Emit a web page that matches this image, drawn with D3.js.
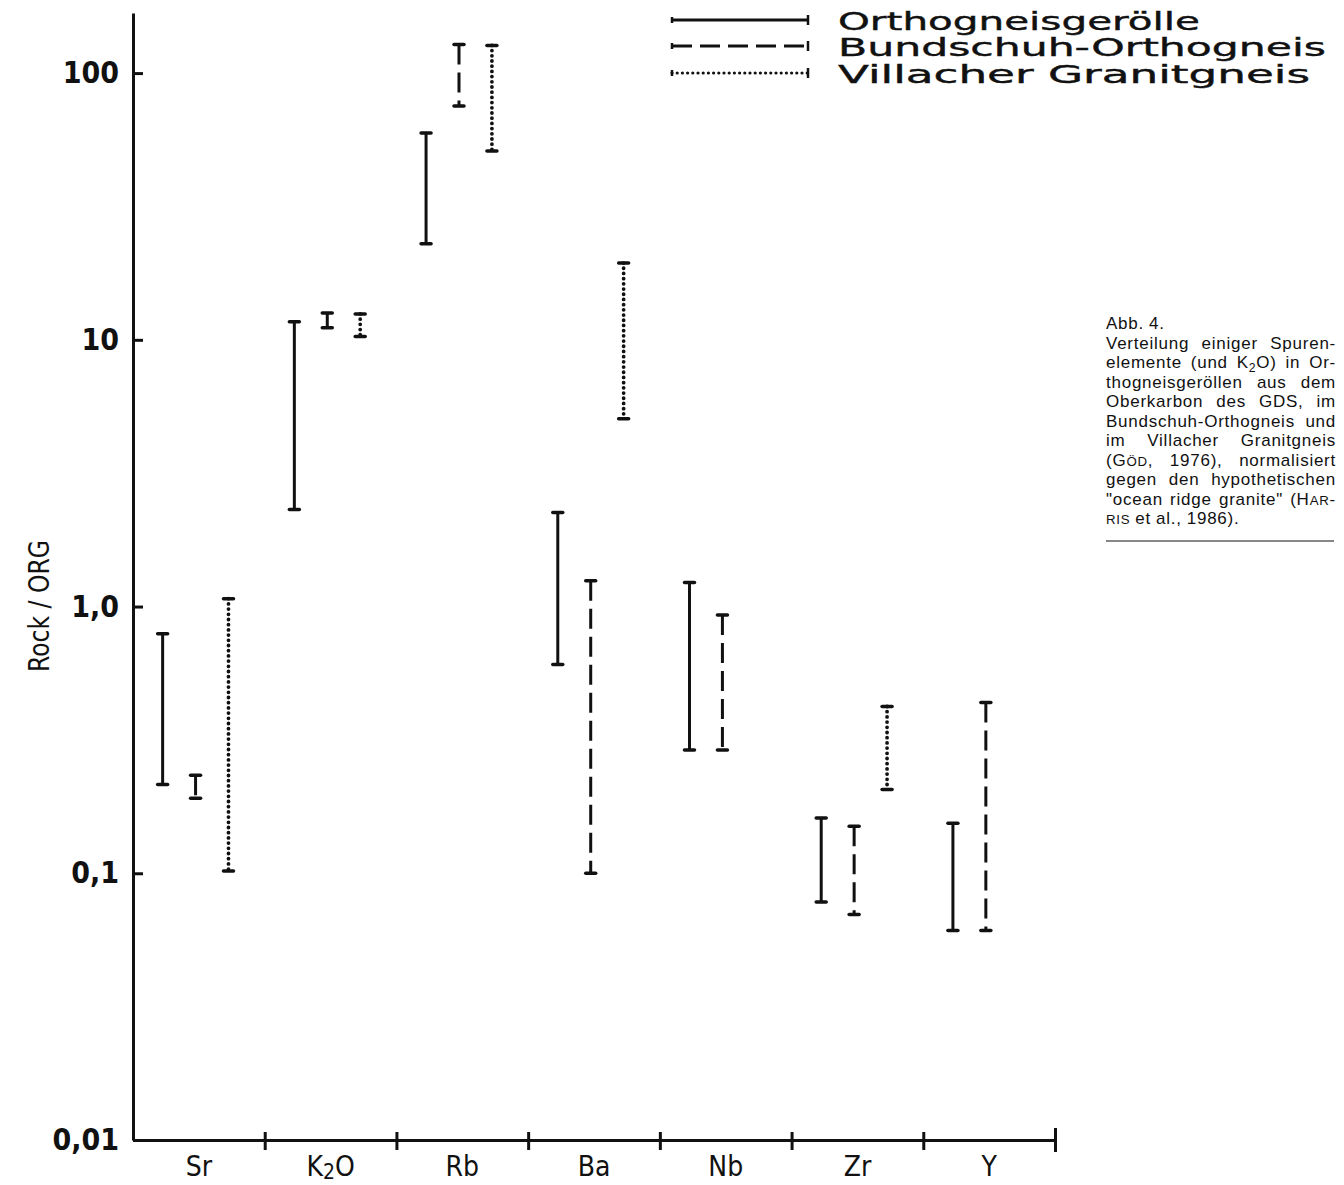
<!DOCTYPE html>
<html>
<head>
<meta charset="utf-8">
<script src="https://cdn.jsdelivr.net/npm/d3@7"></script>
<style>
  body { margin: 0; background: #fff; }
  svg { display: block; }
</style>
</head>
<body>
<div id="chart"></div>
<script>
    // Categories on the x axis
    const categories = ["Sr", "K2O", "Rb", "Ba", "Nb", "Zr", "Y"];
    const seriesNames = ["Orthogneisgerölle", "Bundschuh-Orthogneis", "Villacher Granitgneis"];

    // Rock / ORG ranges (min, max) per category, null = not shown
    const orthoMin = [0.215, 2.31, 22.9, 0.607, 0.29, 0.078, 0.061];
    const orthoMax = [0.79, 11.7, 59.6, 2.25, 1.23, 0.161, 0.154];
    const bundMin  = [0.191, 11.1, 75.2, 0.10, 0.29, 0.070, 0.061];
    const bundMax  = [0.233, 12.6, 128, 1.25, 0.93, 0.150, 0.437];
    const villMin  = [0.102, 10.3, 51, 5.06, null, 0.206, null];
    const villMax  = [1.07, 12.5, 127, 19.4, null, 0.422, null];

    // Y axis ticks
    const yTicks = [0.01, 0.1, 1, 10, 100];
    const yTickLabels = ["0,01", "0,1", "1,0", "10", "100"];
    const yMax = 168;

    // Caption text ({..} = small caps, _2 = subscript)
    const captionLines = [
        "Abb. 4.",
        "Verteilung einiger Spuren-",
        "elemente (und K_2O) in Or-",
        "thogneisgeröllen aus dem",
        "Oberkarbon des GDS, im",
        "Bundschuh-Orthogneis und",
        "im Villacher Granitgneis",
        "(G{ÖD}, 1976), normalisiert",
        "gegen den hypothetischen",
        "\"ocean ridge granite\" (H{AR}-",
        "{RIS} et al., 1986)."
    ];

    const width = 1344, height = 1185;
    const ink = "#111";
    const seriesDash = ["none", "20 8", "0 5.2"];
    const seriesCap = ["butt", "butt", "round"];
    const seriesWidth = [3, 3, 3.8];

    const svg = d3.select("#chart")
        .append("svg")
        .attr("width", width)
        .attr("height", height);

    // Scales
    const x = d3.scaleBand().domain(categories).range([133, 1055]);
    const xSub = d3.scaleBand().domain(seriesNames)
        .range([x.bandwidth() * 0.1, x.bandwidth() * 0.85]);
    const y = d3.scaleLog().domain([0.01, yMax]).range([1140, 13]);

    // Y axis
    const yAxis = svg.append("g")
        .attr("transform", "translate(133,0)")
        .call(d3.axisLeft(y)
            .tickValues(yTicks)
            .tickFormat((d, i) => yTickLabels[i])
            .tickSizeInner(-10)
            .tickSizeOuter(0)
            .tickPadding(14));
    yAxis.select(".domain").attr("stroke", ink).attr("stroke-width", 3);
    yAxis.selectAll(".tick line").attr("stroke", ink).attr("stroke-width", 3);
    yAxis.selectAll(".tick text")
        .attr("fill", ink)
        .attr("font-family", "'Liberation Sans Narrow', 'DejaVu Sans Condensed', sans-serif")
        .attr("font-weight", "bold")
        .attr("font-size", 30);

    // X axis: labels at band centres
    const xAxis = svg.append("g")
        .attr("transform", "translate(0,1140)")
        .call(d3.axisBottom(x).tickSize(0).tickPadding(16));
    xAxis.select(".domain").attr("stroke", ink).attr("stroke-width", 3);
    xAxis.selectAll(".tick text")
        .attr("fill", ink)
        .attr("font-family", "'DejaVu Sans Condensed', 'DejaVu Sans', sans-serif")
        .attr("font-size", 28);
    xAxis.selectAll(".tick text").filter(d => d === "K2O")
        .text(null)
        .call(t => {
            t.append("tspan").text("K");
            t.append("tspan").attr("font-size", 21).attr("dy", 3).text("2");
            t.append("tspan").attr("dy", -3).text("O");
        });

    // X axis: crossing ticks at band boundaries
    const xb = d3.scaleLinear().domain([0, categories.length]).range([133, 1055]);
    svg.append("g")
        .attr("transform", "translate(0,1140)")
        .call(d3.axisBottom(xb)
            .tickValues(d3.range(1, categories.length + 1))
            .tickSize(10)
            .tickFormat(""))
        .call(g => g.select(".domain").remove())
        .call(g => g.selectAll(".tick line")
            .attr("stroke", ink)
            .attr("stroke-width", 3)
            .attr("y1", d => d === categories.length ? -12 : -8)
            .attr("y2", d => d === categories.length ? 12 : 10));

    // Range bars
    const mins = [orthoMin, bundMin, villMin];
    const maxs = [orthoMax, bundMax, villMax];
    const bars = [];
    categories.forEach((c, i) => {
        seriesNames.forEach((s, j) => {
            if (mins[j][i] != null) {
                bars.push({ cat: c, series: s, idx: j, lo: mins[j][i], hi: maxs[j][i] });
            }
        });
    });
    const cx = d => x(d.cat) + xSub(d.series) + xSub.bandwidth() / 2;

    const barG = svg.append("g");
    barG.selectAll(".range")
        .data(bars)
        .enter().append("line")
        .attr("class", "range")
        .attr("x1", cx).attr("x2", cx)
        .attr("y1", d => y(d.hi)).attr("y2", d => y(d.lo))
        .attr("stroke", ink)
        .attr("stroke-width", d => seriesWidth[d.idx])
        .attr("stroke-dasharray", d => seriesDash[d.idx])
        .attr("stroke-linecap", d => seriesCap[d.idx]);

    // End caps
    const caps = bars.flatMap(d => [{ b: d, v: d.hi }, { b: d, v: d.lo }]);
    barG.selectAll(".cap")
        .data(caps)
        .enter().append("line")
        .attr("class", "cap")
        .attr("x1", d => cx(d.b) - 5).attr("x2", d => cx(d.b) + 5)
        .attr("y1", d => y(d.v)).attr("y2", d => y(d.v))
        .attr("stroke", ink)
        .attr("stroke-width", 3.5)
        .attr("stroke-linecap", "round");

    // Legend
    const legendY = [20, 46, 73];
    const legendTextLen = [362, 488, 472];
    const legend = svg.append("g");
    seriesNames.forEach((s, j) => {
        legend.append("line")
            .attr("x1", 672).attr("x2", 808)
            .attr("y1", legendY[j]).attr("y2", legendY[j])
            .attr("stroke", ink)
            .attr("stroke-width", j === 2 ? 3.2 : seriesWidth[j])
            .attr("stroke-dasharray", seriesDash[j])
            .attr("stroke-linecap", seriesCap[j]);
        legend.append("line")
            .attr("x1", 808).attr("x2", 808)
            .attr("y1", legendY[j] - 5).attr("y2", legendY[j] + 5)
            .attr("stroke", ink).attr("stroke-width", 2.5);
        legend.append("line")
            .attr("x1", 672).attr("x2", 672)
            .attr("y1", legendY[j] - 3).attr("y2", legendY[j] + 3)
            .attr("stroke", ink).attr("stroke-width", 2.5);
        legend.append("text")
            .attr("x", 838)
            .attr("y", legendY[j] + 10)
            .attr("font-family", "'DejaVu Sans', sans-serif")
            .attr("font-size", 25)
            .attr("fill", ink)
            .attr("stroke", ink)
            .attr("stroke-width", 0.4)
            .attr("textLength", legendTextLen[j])
            .attr("lengthAdjust", "spacingAndGlyphs")
            .text(s);
    });

    // Y axis title
    svg.append("text")
        .attr("transform", "translate(49,606) rotate(-90)")
        .attr("text-anchor", "middle")
        .attr("font-family", "'DejaVu Sans Condensed', 'DejaVu Sans', sans-serif")
        .attr("font-size", 28)
        .attr("fill", ink)
        .attr("textLength", 132)
        .attr("lengthAdjust", "spacingAndGlyphs")
        .text("Rock / ORG");

    // Caption (justified)
    const capX0 = 1106, capX1 = 1336, capY0 = 329, capStep = 19.5, capFont = 17;
    const capG = svg.append("g")
        .attr("font-family", "'Liberation Sans', Arial, sans-serif")
        .attr("font-size", capFont)
        .attr("letter-spacing", 0.75)
        .attr("fill", ink);

    captionLines.forEach((line, li) => {
        const yy = capY0 + li * capStep;
        const words = line.split(" ");
        const nodes = words.map(w => {
            const t = capG.append("text").attr("y", yy);
            let shifted = false;
            w.split(/(\{[^}]*\}|_\d)/).filter(p => p !== "").forEach(p => {
                const ts = t.append("tspan");
                if (shifted) { ts.attr("dy", -4); shifted = false; }
                if (p.startsWith("{")) {
                    ts.attr("font-size", capFont * 0.78).text(p.slice(1, -1));
                } else if (p.startsWith("_")) {
                    ts.attr("font-size", capFont * 0.72).attr("dy", 4).text(p.slice(1));
                    shifted = true;
                } else {
                    ts.text(p);
                }
            });
            return t;
        });
        const widths = nodes.map(n => n.node().getComputedTextLength());
        const total = d3.sum(widths);
        const justify = li > 0 && li < captionLines.length - 1 && nodes.length > 1;
        const gap = justify ? (capX1 - capX0 - total) / (nodes.length - 1) : 5;
        let xx = capX0;
        nodes.forEach((n, k) => {
            n.attr("x", xx);
            xx += widths[k] + gap;
        });
    });

    svg.append("line")
        .attr("x1", 1106).attr("x2", 1334)
        .attr("y1", 541).attr("y2", 541)
        .attr("stroke", ink).attr("stroke-width", 1.2);
</script>
</body>
</html>
